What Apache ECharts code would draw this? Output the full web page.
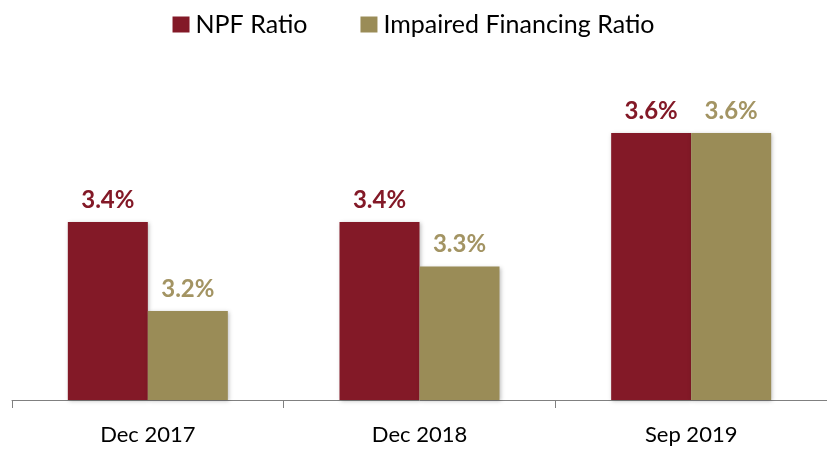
<!DOCTYPE html>
<html>
<head>
<meta charset="utf-8">
<script src="https://cdn.jsdelivr.net/npm/echarts@6/dist/echarts.min.js"></script>
<style>
  html, body { margin: 0; padding: 0; background: #fff; }
  #chart { width: 827px; height: 449px; }
</style>
</head>
<body>
<div id="chart"></div>
<script>
var categories = ['Dec 2017', 'Dec 2018', 'Sep 2019']
var npfRatio = [3.4, 3.4, 3.6]
var impairedRatio = [3.2, 3.3, 3.6]

var chart = echarts.init(document.getElementById('chart'))

function label(color) {
  return {
    show: true,
    position: 'top',
    distance: 10,
    color: color,
    fontFamily: 'Lato',
    fontWeight: 'bold',
    fontSize: 24,
    formatter: function (p) { return p.value.toFixed(1) + '%' }
  }
}

chart.setOption({
  animation: false,
  textStyle: { fontFamily: 'Lato' },
  legend: {
    top: 7,
    left: 'center',
    itemWidth: 17,
    itemHeight: 16,
    itemGap: 53,
    icon: 'rect',
    textStyle: { fontSize: 25, color: '#000', fontFamily: 'Lato', padding: [0, 0, 0, 1] },
    data: ['NPF Ratio', 'Impaired Financing Ratio']
  },
  grid: { left: 12, right: -3, top: 44, bottom: 49 },
  xAxis: {
    type: 'category',
    data: categories,
    axisLine: { lineStyle: { color: '#808080', width: 1 } },
    axisTick: { show: true, length: 8, lineStyle: { color: '#808080' } },
    axisLabel: { color: '#000', fontSize: 22, margin: 24, fontFamily: 'Lato' }
  },
  yAxis: {
    type: 'value',
    min: 3.0,
    max: 3.8,
    show: false,
    splitLine: { show: false }
  },
  series: [
    {
      name: 'NPF Ratio',
      type: 'bar',
      barWidth: 80,
      barGap: '0%',
      data: npfRatio,
      itemStyle: { color: '#831927', shadowColor: 'rgba(0,0,0,0.25)', shadowBlur: 4, shadowOffsetX: 1, shadowOffsetY: 1 },
      label: label('#831927')
    },
    {
      name: 'Impaired Financing Ratio',
      type: 'bar',
      barWidth: 80,
      barGap: '0%',
      data: impairedRatio,
      itemStyle: { color: '#9A8C57', shadowColor: 'rgba(0,0,0,0.25)', shadowBlur: 4, shadowOffsetX: 1, shadowOffsetY: 1 },
      label: label('#A39463')
    }
  ]
})
</script>
</body>
</html>
